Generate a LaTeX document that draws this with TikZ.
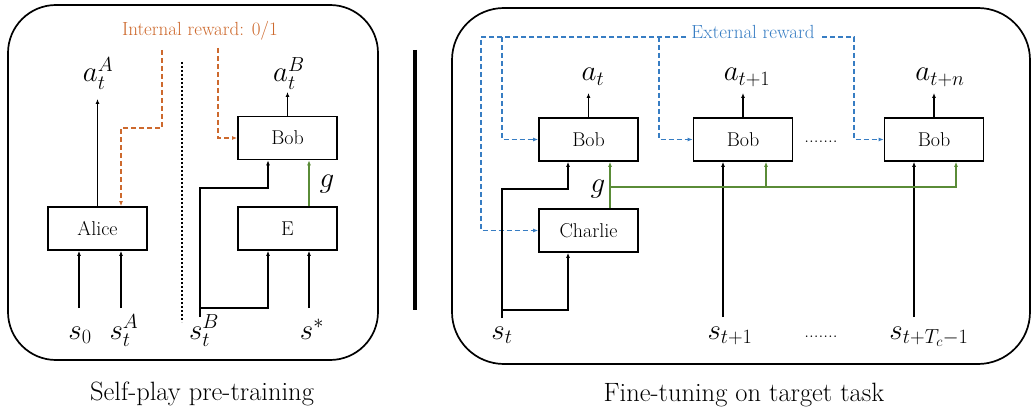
\RequirePackage{fix-cm}
\documentclass[tikz,border=0pt]{standalone}
\usetikzlibrary{arrows.meta}
\definecolor{rewo}{RGB}{205,105,45}
\definecolor{rewb}{RGB}{55,125,195}
\definecolor{gline}{RGB}{90,140,55}
\begin{document}
\begin{tikzpicture}[x=1pt,y=-1pt,
  boxn/.style={draw,line width=1.7pt,minimum width=99pt,minimum height=43pt,inner sep=0pt,font=\fontsize{20}{22}\selectfont},
  mlab/.style={anchor=base,inner sep=0pt,font=\fontsize{29}{32}\selectfont},
  capt/.style={anchor=base,inner sep=0pt,font=\fontsize{26.5}{28}\selectfont},
  rlab/.style={anchor=base,inner sep=0pt,font=\fontsize{19}{21}\selectfont},
  arr/.style={line width=1.3pt,-{Latex[length=5pt,width=4pt]}},
  oarr/.style={rewo,line width=1.3pt,dash pattern=on 5pt off 3pt,-{Latex[length=5pt,width=4pt]}},
  barr/.style={rewb,line width=1.3pt,dash pattern=on 5pt off 3pt,-{Latex[length=5pt,width=4pt]}},
  garr/.style={gline,line width=1.3pt,-{Latex[length=5pt,width=4pt]}},
  panel/.style={draw,line width=1.7pt}]
\useasboundingbox (0,0) rectangle (1034,409);

% ---------------- left panel ----------------
\draw[panel,rounded corners=48pt] (8,5) rectangle (378,360);
\node[rlab,text=rewo] (intr) at (200,36) {Internal reward: 0/1};

\node[boxn] (Alice) at (97.5,228.5) {Alice};
\node[boxn] (BobL) at (287.5,138) {Bob};
\node[boxn] (E) at (287.5,228.5) {E};

\node[mlab] (aA) at (98,82) {$a_t^A$};
\node[mlab] (aB) at (289,82) {$a_t^B$};
\node[mlab] (s0) at (80,339) {$s_0$};
\node[mlab] (sA) at (124,339) {$s_t^A$};
\node[mlab] (sB) at (204,339) {$s_t^B$};
\node[mlab] (ss) at (312,339) {$s^*$};
\node[mlab] (gL) at (327,187) {$g$};

\coordinate (aAtip) at (97.5,99);
\coordinate (aBtip) at (287.5,92);
\coordinate (s0in) at (79,308);
\coordinate (sAin) at (121,308);
\coordinate (ssin) at (309,308);
\coordinate (sBtop) at (200,317);
\coordinate (sBlow) at (200,308);
\coordinate (j1) at (268,188);
\coordinate (or1) at (162,50);
\coordinate (orj) at (121,128);
\coordinate (or2) at (218,48);

\draw[arr] (Alice.north) -- (aAtip);
\draw[arr] (BobL.north) -- (aBtip);
\draw[arr] (s0in) -- (s0in |- Alice.south);
\draw[arr] (sAin) -- (sAin |- Alice.south);
\draw[arr] (ssin) -- (ssin |- E.south);
\draw[garr] (ssin |- E.north) -- (ssin |- BobL.south);
\draw[arr] (sBtop) |- (j1) -- (j1 |- BobL.south);
\draw[arr] (sBlow) -| (j1 |- E.south);
\draw[oarr] (or1) |- (orj) -- (orj |- Alice.north);
\draw[oarr] (or2) |- (BobL.west);
\draw[line width=2pt,dash pattern=on 2pt off 2pt] (182,62) -- (182,322);

% separator
\draw[line width=4pt] (415,50) -- (415,310);

\node[capt] (capL) at (202,400) {Self-play pre-training};

% ---------------- right panel ----------------
\draw[panel,rounded corners=52pt] (452,8) rectangle (1030,364);
\node[rlab,text=rewb] (ext) at (753,39) {External reward};

\node[boxn] (Bob1) at (588.5,139.5) {Bob};
\node[boxn] (Bob2) at (743,139.5) {Bob};
\node[boxn] (Bob3) at (934,139.5) {Bob};
\node[boxn] (Charlie) at (588.5,230.5) {Charlie};

\node[mlab] (at0) at (593,81) {$a_t$};
\node[mlab] (at1) at (747,81) {$a_{t+1}$};
\node[mlab] (atn) at (940,81) {$a_{t+n}$};
\node[mlab] (st0) at (502,339) {$s_t$};
\node[mlab] (st1) at (730,339) {$s_{t+1}$};
\node[mlab] (stn) at (929,339) {$s_{t+T_c-1}$};
\node[mlab] (gR) at (598,193) {$g$};
\node[rlab] (dots1) at (821,143) {.......};
\node[rlab] (dots2) at (821,337) {.......};

\coordinate (t0tip) at (588.5,93);
\coordinate (t1tip) at (743,93);
\coordinate (tntip) at (934,93);
\draw[arr] (Bob1.north) -- (t0tip);
\draw[arr] (Bob2.north) -- (t1tip);
\draw[arr] (Bob3.north) -- (tntip);

% external reward lines
\coordinate (extW) at (686,37);
\coordinate (extE) at (822,37);
\coordinate (bL) at (481,37);
\coordinate (b1) at (502,37);
\coordinate (b2) at (659,37);
\coordinate (b3) at (854,37);
\draw[barr] (extW) -| (bL |- Charlie.west) -- (Charlie.west);
\draw[barr] (b1) |- (Bob1.west);
\draw[barr] (b2) |- (Bob2.west);
\draw[barr] (extE) -| (b3 |- Bob3.west) -- (Bob3.west);

% state inputs
\coordinate (sT) at (502,318);
\coordinate (sTlow) at (502,310);
\coordinate (k1) at (568,189);
\coordinate (s1in) at (723,317);
\coordinate (snin) at (914,317);
\draw[arr] (sT) |- (k1) -- (k1 |- Bob1.south);
\draw[arr] (sTlow) -| (k1 |- Charlie.south);
\draw[arr] (s1in) -- (s1in |- Bob2.south);
\draw[arr] (snin) -- (snin |- Bob3.south);

% goal lines
\coordinate (gj) at (610,187);
\coordinate (g2) at (766,187);
\coordinate (g3) at (956,187);
\draw[garr] (gj |- Charlie.north) -- (gj |- Bob1.south);
\draw[garr] (gj) -| (g2 |- Bob2.south);
\draw[garr] (gj) -| (g3 |- Bob3.south);

\node[capt] (capR) at (744,401) {Fine-tuning on target task};
\end{tikzpicture}
\end{document}
